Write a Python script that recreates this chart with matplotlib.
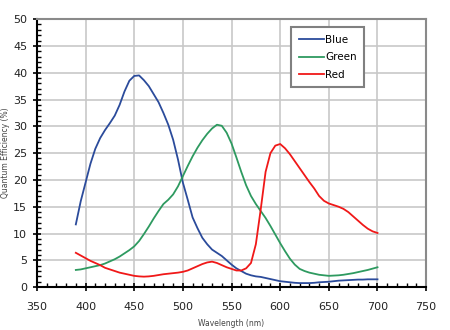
import numpy as np
import matplotlib
matplotlib.use('agg')
import matplotlib.pyplot as plt
from matplotlib.ticker import MultipleLocator

# Quantum efficiency per channel, sampled every 5 nm from 390 to 700 nm
wavelength = list(range(390, 701, 5))

blue = [11.7, 16.0, 19.5, 23.0, 25.8, 27.8, 29.3, 30.6, 32.0, 34.0,
        36.5, 38.5, 39.4, 39.5, 38.6, 37.5, 36.0, 34.5, 32.5, 30.3,
        27.5, 23.8, 19.5, 16.3, 13.0, 11.0, 9.2, 8.0, 7.0, 6.4,
        5.8, 5.0, 4.2, 3.5, 3.0, 2.5, 2.2, 2.0, 1.9, 1.7,
        1.5, 1.3, 1.1, 1.0, 0.9, 0.8, 0.75, 0.75, 0.75, 0.8,
        0.9, 0.95, 1.0, 1.1, 1.2, 1.25, 1.3, 1.35, 1.4, 1.4,
        1.45, 1.45, 1.45]

green = [3.2, 3.3, 3.5, 3.7, 3.9, 4.1, 4.4, 4.8, 5.2, 5.7,
         6.3, 6.9, 7.6, 8.6, 9.9, 11.3, 12.8, 14.2, 15.5, 16.3,
         17.3, 18.8, 20.7, 22.6, 24.4, 26.0, 27.4, 28.6, 29.6, 30.3,
         30.1, 28.8, 26.8, 24.2, 21.5, 19.0, 17.0, 15.5, 14.2, 12.9,
         11.4, 9.8, 8.2, 6.7, 5.3, 4.2, 3.4, 3.0, 2.7, 2.5,
         2.3, 2.2, 2.1, 2.15, 2.2, 2.3, 2.45, 2.6, 2.8, 3.0,
         3.2, 3.45, 3.7]

red = [6.4, 5.9, 5.4, 4.9, 4.5, 4.1, 3.6, 3.3, 3.0, 2.7,
       2.5, 2.3, 2.1, 2.0, 1.95, 2.0, 2.1, 2.25, 2.4, 2.5,
       2.6, 2.7, 2.85, 3.1, 3.5, 3.9, 4.3, 4.6, 4.75, 4.5,
       4.1, 3.7, 3.4, 3.1, 3.1, 3.5, 4.5, 8.0, 14.5, 21.5,
       25.0, 26.4, 26.7, 25.9, 24.8, 23.5, 22.2, 20.9, 19.6, 18.4,
       17.0, 16.1, 15.6, 15.3, 15.0, 14.6, 14.0, 13.2, 12.4, 11.6,
       10.9, 10.4, 10.1]

series = [("Blue", blue, '#2b4b9b'),
          ("Green", green, '#2e9a60'),
          ("Red", red, '#f01818')]

fig = plt.figure(figsize=(4.5, 3.3), dpi=100)
ax = fig.add_axes([0.082, 0.130, 0.865, 0.812])

for name, values, color in series:
    ax.plot(wavelength, values, color=color, linewidth=1.3, label=name)

ax.set_xlim(350, 750)
ax.set_ylim(0, 50)
ax.xaxis.set_major_locator(MultipleLocator(50))
ax.xaxis.set_minor_locator(MultipleLocator(10))
ax.yaxis.set_major_locator(MultipleLocator(5))
ax.yaxis.set_minor_locator(MultipleLocator(1))

ax.grid(True, which='major', color='#c8c8c8', linewidth=1.2)
ax.set_axisbelow(True)

for side in ('left', 'bottom'):
    ax.spines[side].set_color('black')
    ax.spines[side].set_linewidth(1.5)
for side in ('top', 'right'):
    ax.spines[side].set_color('#8a8a8a')
    ax.spines[side].set_linewidth(1.5)

ax.tick_params(which='major', direction='inout', length=6, width=1.2,
               labelsize=8, colors='black', pad=4)
ax.tick_params(which='minor', direction='in', length=3, width=1.0)
ax.tick_params(axis='x', which='major', pad=8)
for lbl in ax.get_xticklabels() + ax.get_yticklabels():
    lbl.set_color('#222222')

ax.set_xlabel("Wavelength (nm)", fontsize=5.5, color='#444444', labelpad=5)
ax.set_ylabel("Quantum Efficiency (%)", fontsize=5.5, color='#444444', labelpad=2)

leg = ax.legend(loc='upper left', bbox_to_anchor=(0.653, 0.97), fontsize=7.5,
                frameon=True, fancybox=False, framealpha=1, edgecolor='#808080',
                handlelength=2.4, handletextpad=0.1, labelspacing=0.7,
                borderpad=0.75, borderaxespad=0)
leg.get_frame().set_linewidth(1.5)

fig.savefig('out.png', dpi=100)
